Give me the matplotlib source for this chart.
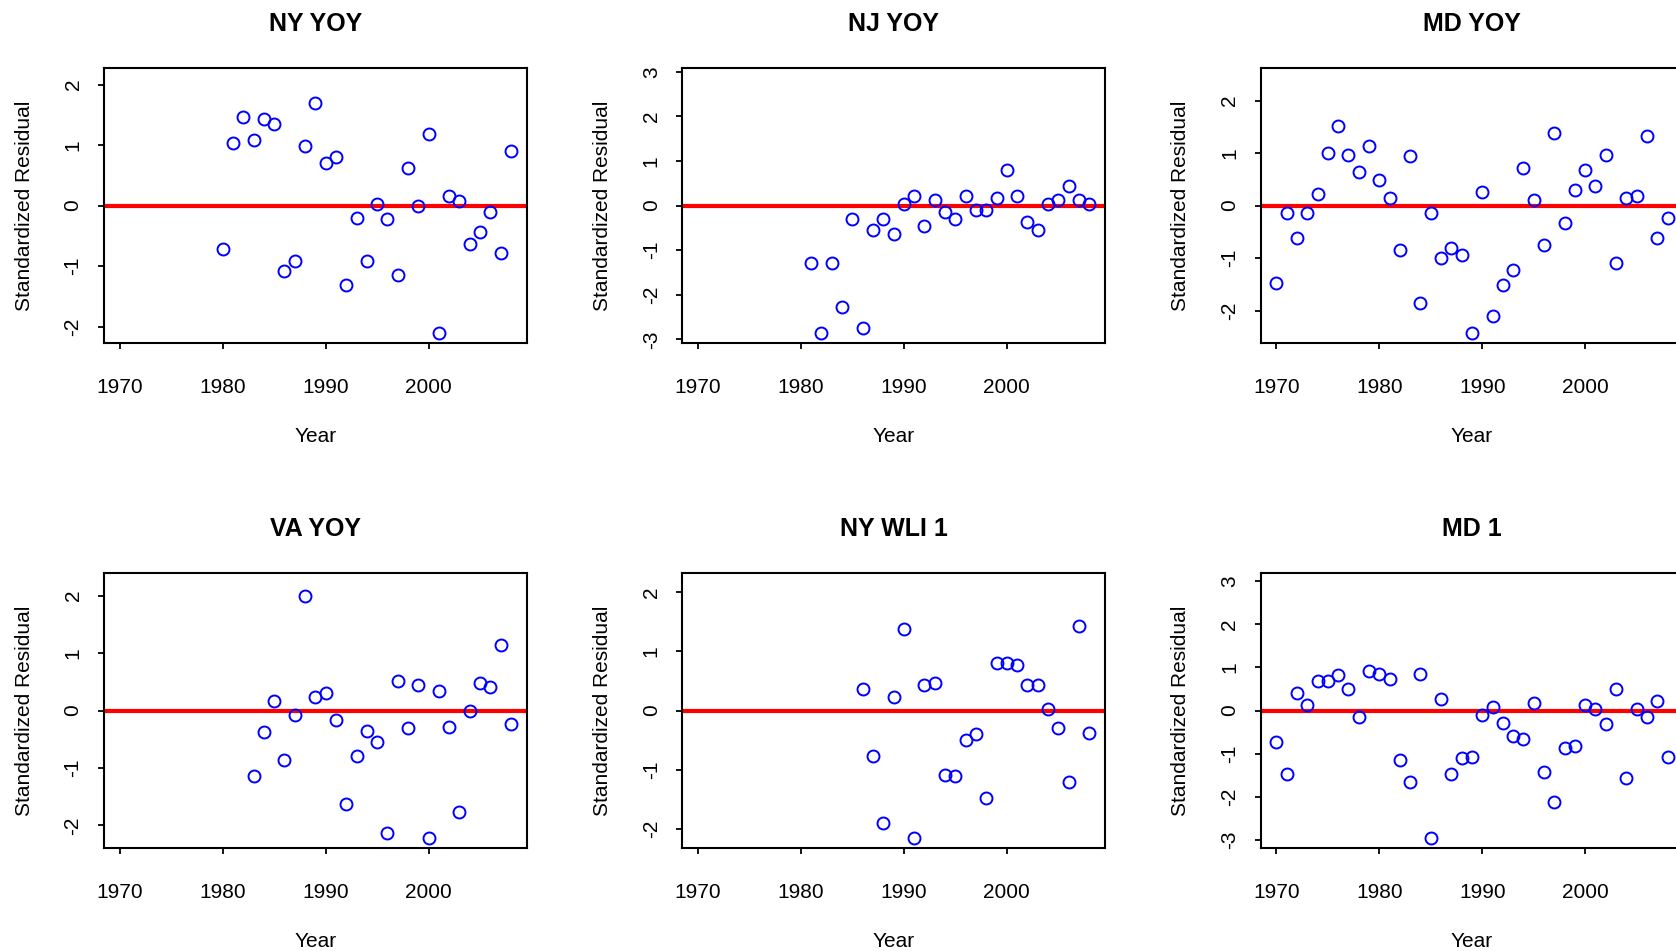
import matplotlib
matplotlib.use("Agg")
import matplotlib.pyplot as plt
from matplotlib.ticker import MultipleLocator

plt.rcParams['font.family'] = ['Liberation Sans', 'DejaVu Sans']
plt.rcParams['axes.unicode_minus'] = False

titles = ['NY YOY', 'NJ YOY', 'MD YOY', 'VA YOY', 'NY WLI 1', 'MD 1']

ny_yoy_years = list(range(1980, 2009))
ny_yoy = [-0.72, 1.04, 1.47, 1.08, 1.43, 1.35, -1.09, -0.92, 0.98, 1.70,
          0.71, 0.81, -1.31, -0.20, -0.92, 0.03, -0.23, -1.15, 0.62, -0.01,
          1.18, -2.10, 0.16, 0.07, -0.63, -0.43, -0.10, -0.79, 0.91]

nj_yoy_years = list(range(1981, 2009))
nj_yoy = [-1.29, -2.85, -1.29, -2.27, -0.31, -2.75, -0.54, -0.31, -0.63, 0.04,
          0.22, -0.45, 0.13, -0.14, -0.31, 0.22, -0.10, -0.10, 0.17, 0.80,
          0.22, -0.37, -0.54, 0.04, 0.13, 0.44, 0.13, 0.04]

md_yoy_years = list(range(1970, 2009))
md_yoy = [-1.47, -0.15, -0.61, -0.15, 0.22, 1.01, 1.51, 0.97, 0.64, 1.13,
          0.49, 0.15, -0.84, 0.94, -1.85, -0.15, -0.99, -0.80, -0.95, -2.42,
          0.26, -2.11, -1.51, -1.22, 0.72, 0.11, -0.76, 1.39, -0.34, 0.30,
          0.67, 0.37, 0.97, -1.09, 0.15, 0.18, 1.32, -0.61, -0.23]

va_yoy_years = list(range(1983, 2009))
va_yoy = [-1.14, -0.38, 0.17, -0.86, -0.08, 1.99, 0.24, 0.31, -0.17, -1.62,
          -0.79, -0.35, -0.55, -2.13, 0.51, -0.31, 0.45, -2.21, 0.34, -0.28,
          -1.76, -0.01, 0.48, 0.41, 1.14, -0.24]

ny_wli_years = list(range(1986, 2009))
ny_wli = [0.36, -0.77, -1.90, 0.23, 1.37, -2.14, 0.43, 0.46, -1.08, -1.10,
          -0.50, -0.40, -1.47, 0.80, 0.80, 0.76, 0.43, 0.43, 0.03, -0.30,
          -1.20, 1.43, -0.37]

md_1_years = list(range(1970, 2009))
md_1 = [-0.74, -1.48, 0.41, 0.14, 0.69, 0.69, 0.82, 0.50, -0.15, 0.91,
        0.86, 0.73, -1.15, -1.66, 0.86, -2.95, 0.27, -1.48, -1.11, -1.07,
        -0.10, 0.09, -0.28, -0.60, -0.65, 0.18, -1.43, -2.12, -0.88, -0.83,
        0.14, 0.04, -0.32, 0.50, -1.56, 0.04, -0.15, 0.22, -1.07]

panels = [(ny_yoy_years, ny_yoy), (nj_yoy_years, nj_yoy), (md_yoy_years, md_yoy),
          (va_yoy_years, va_yoy), (ny_wli_years, ny_wli), (md_1_years, md_1)]

fig = plt.figure(figsize=(16.76, 9.51), dpi=100)

lefts = [0.0621, 0.4071, 0.7522]
bottoms = [0.6396, 0.1086]
w, h = 0.2521, 0.2885

# R-style axis range: 1970-2008 padded by 4%
x0, x1 = 1970, 2008
xpad = 0.04 * (x1 - x0)

for i, (years, vals) in enumerate(panels):
    ax = fig.add_axes([lefts[i % 3], bottoms[i // 3], w, h])
    ax.plot(years, vals, 'o', mfc='none', mec='blue', ms=8.6, mew=1.4,
            clip_on=False, zorder=3)
    ax.axhline(0, color='red', lw=3, zorder=2)
    m = max(abs(v) for v in vals)
    ax.set_ylim(-m * 1.08, m * 1.08)
    ax.set_xlim(x0 - xpad, x1 + xpad)
    ax.set_xticks([1970, 1980, 1990, 2000])
    ax.yaxis.set_major_locator(MultipleLocator(1))
    for s in ax.spines.values():
        s.set_linewidth(1.5)
    ax.tick_params(length=4.3, width=1.3, labelsize=15)
    ax.tick_params(axis='x', pad=21)
    ax.tick_params(axis='y', pad=18, labelrotation=90)
    plt.setp(ax.get_yticklabels(), ha='center', va='center')
    ax.set_title(titles[i], fontsize=18, fontweight='bold', pad=27)
    ax.set_xlabel('Year', fontsize=15)
    ax.xaxis.set_label_coords(0.5, -0.306)
    ax.set_ylabel('Standardized Residual', fontsize=15)
    ax.yaxis.set_label_coords(-0.167, 0.5)

fig.savefig('out.png', dpi=100)
